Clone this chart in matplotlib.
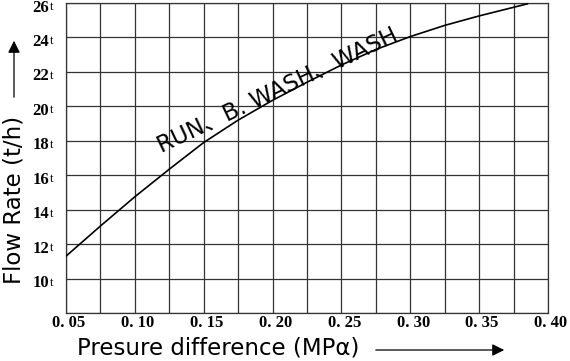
import matplotlib.pyplot as plt
import matplotlib.transforms as mtransforms
import numpy as np

# Data
pressure = [0.05, 0.075, 0.10, 0.125, 0.15, 0.175, 0.20, 0.225, 0.25,
            0.275, 0.30, 0.325, 0.35, 0.375, 0.385]
flow = [11.3, 13.05, 14.75, 16.35, 17.9, 19.2, 20.35, 21.4, 22.4,
        23.3, 24.05, 24.7, 25.25, 25.75, 25.95]

x_ticks = [0.05, 0.10, 0.15, 0.20, 0.25, 0.30, 0.35, 0.40]
x_tick_labels = ['0. 05', '0. 10', '0. 15', '0. 20', '0. 25', '0. 30', '0. 35', '0. 40']
y_ticks = [10, 12, 14, 16, 18, 20, 22, 24, 26]
y_tick_labels = ['10', '12', '14', '16', '18', '20', '22', '24', '26']
unit = 't'

fig = plt.figure(figsize=(5.7, 3.61), dpi=100)
ax = fig.add_axes([66 / 570, 1 - 313 / 361, 482 / 570, 310 / 361])

grid_color = '#333333'
for gx in np.arange(0.05, 0.4001, 0.025):
    ax.axvline(gx, color=grid_color, lw=0.9, zorder=1)
for gy in range(8, 27, 2):
    ax.axhline(gy, color=grid_color, lw=0.9, zorder=1)

ax.plot(pressure, flow, color='black', lw=1.2, zorder=3)

ax.set_xlim(0.05, 0.40)
ax.set_ylim(8, 26)
ax.set_xticks(x_ticks)
ax.set_xticklabels(x_tick_labels, family='Liberation Serif', fontweight='bold', fontsize=12)
ax.set_yticks(y_ticks)
ax.set_yticklabels(y_tick_labels, family='Liberation Serif', fontweight='bold', fontsize=12)
# small "t" after each flow value
ax.yaxis.remove_overlapping_locs = False
ax.set_yticks(y_ticks, minor=True)
ax.set_yticklabels([unit] * len(y_ticks), minor=True, family='Liberation Serif', fontsize=9)
ax.tick_params(axis='x', length=0, pad=1.5)
ax.tick_params(axis='y', which='major', length=0, pad=12)
ax.tick_params(axis='y', which='minor', length=0, pad=9.2)

down = mtransforms.ScaledTranslation(0, -2.5 / 100, fig.dpi_scale_trans)
for lab in ax.get_yticklabels() + ax.get_yticklabels(minor=True):
    lab.set_transform(lab.get_transform() + down)
right = mtransforms.ScaledTranslation(3 / 100, 0, fig.dpi_scale_trans)
for lab in ax.get_xticklabels():
    lab.set_transform(lab.get_transform() + right)

for s in ax.spines.values():
    s.set_color(grid_color)
    s.set_linewidth(0.9)

# curve label
ax.text(0.204, 20.9, 'RUN、B. WASH、WASH', rotation=25.4, rotation_mode='anchor',
        ha='center', va='center', fontsize=16.5,
        family=['DejaVu Sans', 'Noto Sans CJK SC'], zorder=4)

# axis titles with arrows
fig.text(77 / 570, 1 - 348 / 361, 'Presure difference (MPα)', ha='left', va='center',
         fontsize=16.5, family='DejaVu Sans')
ax.annotate('', xy=(507 / 570, 1 - 350 / 361), xytext=(373 / 570, 1 - 350 / 361),
            xycoords='figure fraction', textcoords='figure fraction',
            arrowprops=dict(arrowstyle='-|>', color='black', lw=0.9, mutation_scale=18))

fig.text(14 / 570, 1 - 200 / 361, 'Flow Rate (t/h)', rotation=90, ha='center', va='center',
         fontsize=16.5, family='DejaVu Sans')
ax.annotate('', xy=(14 / 570, 1 - 38 / 361), xytext=(14 / 570, 1 - 100 / 361),
            xycoords='figure fraction', textcoords='figure fraction',
            arrowprops=dict(arrowstyle='-|>', color='black', lw=0.9, mutation_scale=18))

fig.savefig('out.png', dpi=100)
